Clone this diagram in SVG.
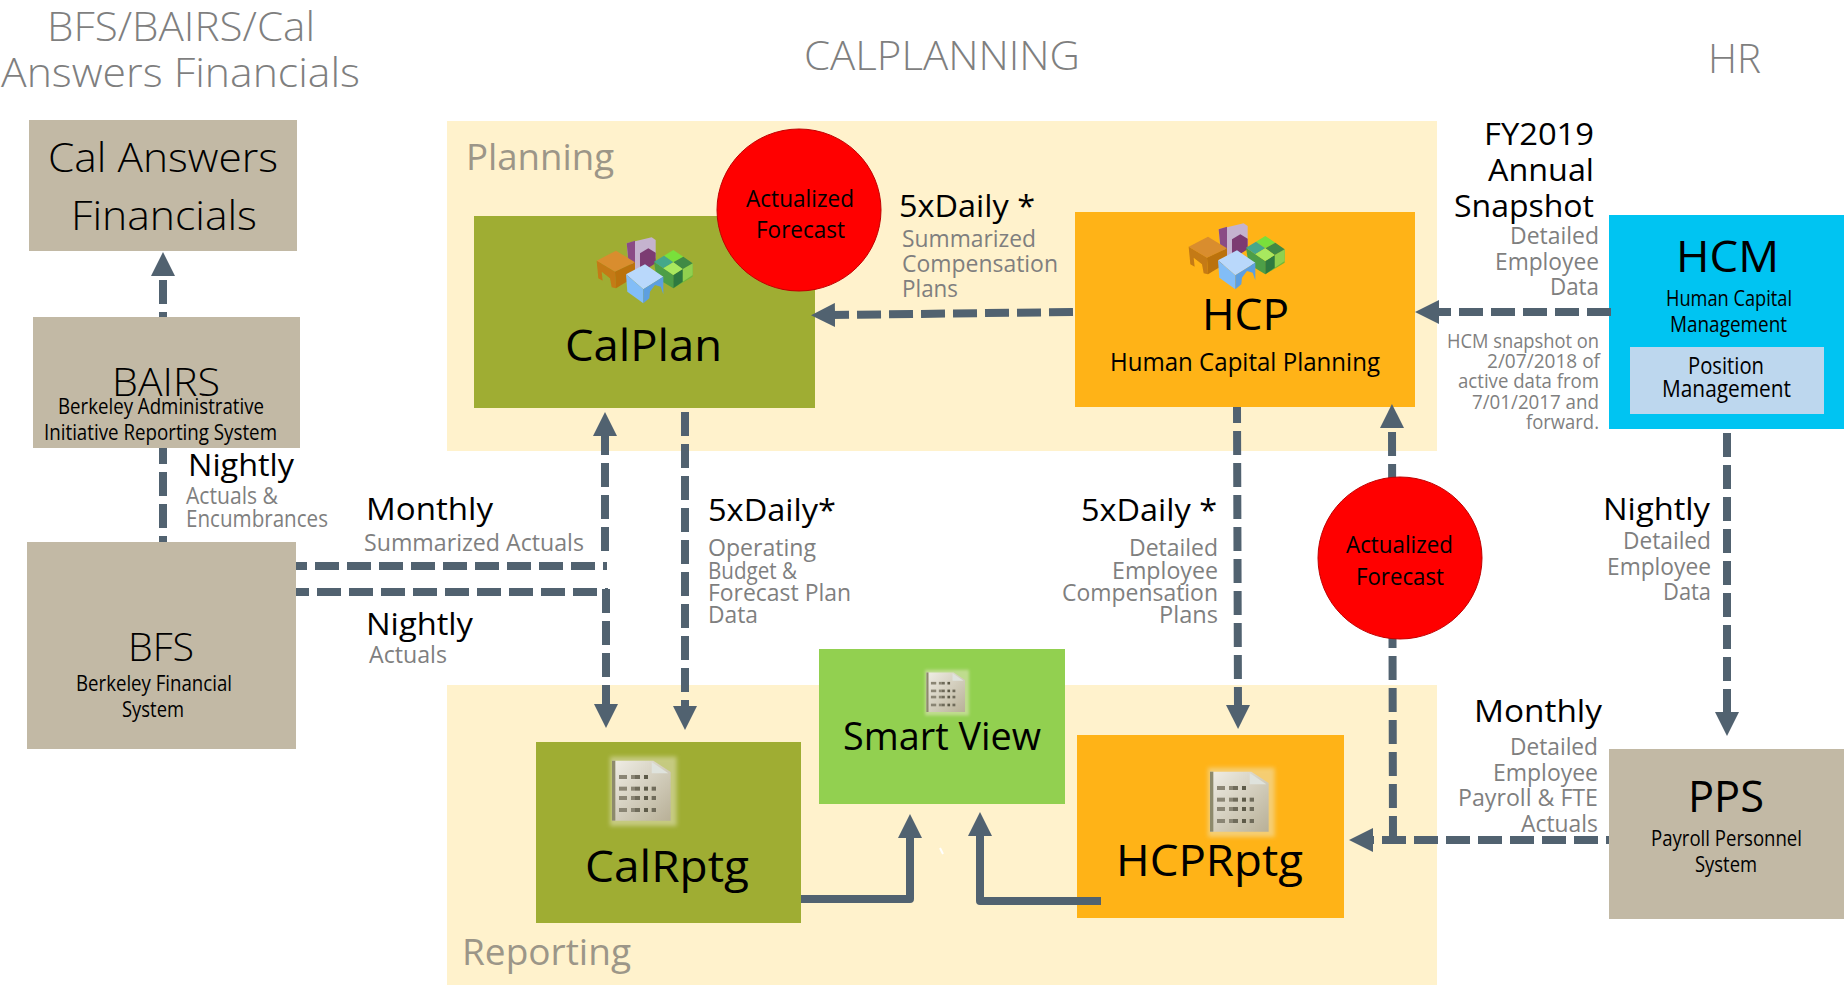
<svg xmlns="http://www.w3.org/2000/svg" width="1848" height="985" viewBox="0 0 1848 985">
<style>
text{font-family:"Open Sans","Noto Sans","Liberation Sans",sans-serif;fill:#000}
.t{fill:#7f7f7f;font-size:40px;font-weight:300}
.g{fill:#7f7f7f;font-size:23px}
.s{fill:#7f7f7f;font-size:20px}
.b{font-size:31px}
.n{font-size:44px}
.l{font-size:40px;font-weight:300}
.m{font-size:21px}
.h{font-size:24px}
.r{fill:#9c9688;font-size:36px}
.tan{fill:#c2b9a5}.olive{fill:#9fad33}.amber{fill:#ffb317}
.c{fill:none;stroke:#516270;stroke-width:8}
.d{stroke-dasharray:24 8}
.red{fill:#f00;stroke:#c00000;stroke-width:1}
</style>
<defs>
<marker id="ah" viewBox="0 0 24 24" refX="4" refY="12" markerWidth="24" markerHeight="24" markerUnits="userSpaceOnUse" orient="auto"><path d="M0 0L24 12L0 24Z" fill="#516270"/></marker>
<linearGradient id="sh" x1="0" y1="0" x2="1" y2="1"><stop offset="0" stop-color="#f0eee6"/><stop offset="1" stop-color="#b8b097"/></linearGradient>
<filter id="bl" x="-10%" y="-10%" width="120%" height="120%"><feGaussianBlur stdDeviation="2"/></filter>
<filter id="bw" x="-20%" y="-20%" width="140%" height="140%"><feGaussianBlur stdDeviation="7"/></filter>
<g id="cube" transform="translate(-7 -7) scale(.3333)" filter="url(#bl)">
<path d="M110 40L185 22L197 30V85L133 125L115 90Z" fill="#c5b3cf"/><path d="M110 40L135 32V100L115 90Z" fill="#8a4c85"/><path d="M150 70L175 55L197 68V100L165 120L150 110Z" fill="#7b3b72"/>
<path d="M20 92L78 62L135 97L75 125Z" fill="#d98d2e"/><path d="M20 92L75 125L78 175L65 172L60 145L35 125L38 152L25 145Z" fill="#c47a14"/><path d="M75 125L135 97V140L78 175Z" fill="#bb7210"/>
<path d="M192 95L250 135V175L200 145Z" fill="#4d9e46"/><path d="M250 135L308 100V140L250 175Z" fill="#6fb83a"/><path d="M278 117L308 100V135L278 155Z" fill="#90d050"/><path d="M250 175L278 155V117L250 135Z" fill="#2f7a40"/>
<path d="M222 77L250 60L280 80L250 97Z" fill="#79e03a"/><path d="M192 95L222 77L250 97L220 115Z" fill="#45a88a"/><path d="M280 80L308 100L278 117L250 97Z" fill="#3f8a45"/><path d="M220 115L250 97L278 117L250 135Z" fill="#a8e85f"/>
<path d="M108 133L165 103L220 140L160 178Z" fill="#b9d8fb"/><path d="M108 133L160 178V220L112 185Z" fill="#82bdf7"/><path d="M160 178L220 140V193L212 170L195 165L180 185L178 205L160 220Z" fill="#5d9fe0"/>
</g>
<g id="sheet" transform="translate(-10 -7) scale(.3333)">
<rect x="30" y="20" width="200" height="208" fill="#ece8cc" opacity=".5" filter="url(#bw)"/>
<g filter="url(#bl)">
<path d="M36 32H160L212 66V212H36Z" fill="url(#sh)"/>
<path d="M36 32H46V212H36Z" fill="#8d8a6c"/>
<path d="M155 36L205 70H155Z" fill="#dfe3dd"/>
</g>
<g fill="#8a8574"><rect x="57" y="75" width="24" height="12"/><rect x="93" y="75" width="12" height="12"/><rect x="105" y="75" width="15" height="12" fill="#6f6b5a"/><rect x="132" y="75" width="12" height="12" fill="#5d5a48"/>
<rect x="57" y="110" width="24" height="12"/><rect x="93" y="110" width="12" height="12"/><rect x="105" y="110" width="15" height="12" fill="#6f6b5a"/><rect x="132" y="110" width="12" height="12" fill="#5d5a48"/><rect x="155" y="110" width="13" height="12" fill="#6f6b5a"/>
<rect x="57" y="138" width="24" height="12"/><rect x="93" y="138" width="12" height="12"/><rect x="105" y="138" width="15" height="12" fill="#6f6b5a"/><rect x="132" y="138" width="12" height="12" fill="#5d5a48"/><rect x="155" y="138" width="13" height="12" fill="#6f6b5a"/>
<rect x="57" y="174" width="24" height="12"/><rect x="93" y="174" width="12" height="12"/><rect x="105" y="174" width="15" height="12" fill="#6f6b5a"/><rect x="132" y="174" width="12" height="12" fill="#5d5a48"/><rect x="155" y="174" width="13" height="12" fill="#6f6b5a"/></g>
</g>
</defs>
<rect width="1848" height="985" fill="#fff"/>
<g id="titles">
<text class="t" x="47" y="41" textLength="268" lengthAdjust="spacingAndGlyphs">BFS/BAIRS/Cal</text>
<text class="t" x="1" y="87" textLength="359" lengthAdjust="spacingAndGlyphs">Answers Financials</text>
<text class="t" x="804" y="70" textLength="276" lengthAdjust="spacingAndGlyphs">CALPLANNING</text>
<text class="t" x="1708" y="73" textLength="53" lengthAdjust="spacingAndGlyphs">HR</text>
</g>
<g id="planning"><rect x="447" y="121" width="990" height="330" fill="#fff2cc"/><text class="r" x="466" y="170" textLength="148" lengthAdjust="spacingAndGlyphs">Planning</text></g>
<g id="reporting"><rect x="447" y="685" width="990" height="300" fill="#fff2cc"/><text class="r" x="462" y="965" textLength="169" lengthAdjust="spacingAndGlyphs">Reporting</text></g>

<g id="calanswers"><rect class="tan" x="29" y="120" width="268" height="131"/><text class="l" x="48" y="172" textLength="230" lengthAdjust="spacingAndGlyphs">Cal Answers</text><text class="l" x="71" y="230" textLength="186" lengthAdjust="spacingAndGlyphs">Financials</text></g>
<g id="bairs"><rect class="tan" x="33" y="317" width="267" height="131"/><text class="l" style="font-size:39px" x="112" y="396" textLength="108" lengthAdjust="spacingAndGlyphs">BAIRS</text><text class="m" x="58" y="414" textLength="206" lengthAdjust="spacingAndGlyphs">Berkeley Administrative</text><text class="m" x="44" y="440" textLength="233" lengthAdjust="spacingAndGlyphs">Initiative Reporting System</text></g>
<g id="bfs"><rect class="tan" x="27" y="542" width="269" height="207"/><text class="l" style="font-size:39px" x="128" y="661" textLength="66" lengthAdjust="spacingAndGlyphs">BFS</text><text class="m" x="76" y="691" textLength="156" lengthAdjust="spacingAndGlyphs">Berkeley Financial</text><text class="m" x="122" y="717" textLength="62" lengthAdjust="spacingAndGlyphs">System</text></g>
<g id="calplan"><rect class="olive" x="474" y="216" width="341" height="192"/><use href="#cube" x="597" y="237"/><text class="n" x="565" y="361" textLength="157" lengthAdjust="spacingAndGlyphs">CalPlan</text></g>
<g id="hcp"><rect class="amber" x="1075" y="212" width="340" height="195"/><use href="#cube" x="1189" y="223"/><text class="n" x="1202" y="330" textLength="87" lengthAdjust="spacingAndGlyphs">HCP</text><text x="1110" y="371" textLength="270" lengthAdjust="spacingAndGlyphs" style="font-size:25px">Human Capital Planning</text></g>
<g id="hcm"><rect x="1609" y="215" width="235" height="214" fill="#00c4f2"/><text class="n" x="1676" y="272" textLength="103" lengthAdjust="spacingAndGlyphs">HCM</text><text class="m" x="1666" y="306" textLength="126" lengthAdjust="spacingAndGlyphs">Human Capital</text><text class="m" x="1670" y="332" textLength="117" lengthAdjust="spacingAndGlyphs">Management</text>
<rect x="1630" y="347" width="194" height="67" fill="#bdd7ee"/><text style="font-size:23px" x="1688" y="374" textLength="76" lengthAdjust="spacingAndGlyphs">Position</text><text style="font-size:23px" x="1662" y="397" textLength="129" lengthAdjust="spacingAndGlyphs">Management</text></g>
<g id="pps"><rect class="tan" x="1609" y="749" width="235" height="170"/><text class="n" x="1688" y="812" textLength="76" lengthAdjust="spacingAndGlyphs">PPS</text><text class="m" x="1651" y="846" textLength="151" lengthAdjust="spacingAndGlyphs">Payroll Personnel</text><text class="m" x="1695" y="872" textLength="62" lengthAdjust="spacingAndGlyphs">System</text></g>
<g id="calrptg"><rect class="olive" x="536" y="742" width="265" height="181"/><use href="#sheet" x="610" y="757"/><text class="n" x="585" y="882" textLength="164" lengthAdjust="spacingAndGlyphs">CalRptg</text></g>
<g id="smartview"><rect x="819" y="649" width="246" height="155" fill="#92d050"/><g transform="translate(925 670) scale(.66)"><use href="#sheet"/></g><text style="font-size:38px" x="843" y="750" textLength="198" lengthAdjust="spacingAndGlyphs">Smart View</text></g>
<g id="hcprptg"><rect class="amber" x="1077" y="735" width="267" height="183"/><use href="#sheet" x="1208" y="768"/><text class="n" x="1116" y="876" textLength="187" lengthAdjust="spacingAndGlyphs">HCPRptg</text></g>

<g id="connectors">
<path class="c d" style="stroke-dashoffset:18" d="M163 542V448"/>
<path class="c d" style="stroke-dashoffset:19" d="M163 317V272" marker-end="url(#ah)"/>
<path class="c d" style="stroke-dashoffset:13" d="M296 566H607"/>
<path class="c d" d="M605 551V432" marker-end="url(#ah)"/>
<path class="c d" style="stroke-dashoffset:11" d="M296 592H608"/>
<path class="c d" d="M606 589V708" marker-end="url(#ah)"/>
<path class="c d" d="M685 412V710" marker-end="url(#ah)"/>
<path class="c d" d="M1073 312L831 315" marker-end="url(#ah)"/>
<path class="c d" style="stroke-dashoffset:8" d="M1237 407L1238 709" marker-end="url(#ah)"/>
<path class="c d" d="M1611 312H1435" marker-end="url(#ah)"/>
<path class="c d" d="M1727 433V716" marker-end="url(#ah)"/>
<path class="c d" style="stroke-dashoffset:21" d="M1609 840H1369" marker-end="url(#ah)"/>
<path class="c d" d="M1393 840L1392 424" marker-end="url(#ah)"/>
<path class="c" stroke-linejoin="round" d="M801 899H910V834" marker-end="url(#ah)"/>
<path class="c" stroke-linejoin="round" d="M1101 901H980V832" marker-end="url(#ah)"/>
</g>
<path d="M940 848L943 854" stroke="#fff" stroke-width="2" fill="none"/>

<g id="forecast1"><ellipse class="red" cx="799" cy="210" rx="82" ry="81"/><text class="h" x="746" y="207" textLength="108" lengthAdjust="spacingAndGlyphs">Actualized</text><text class="h" x="756" y="238" textLength="89" lengthAdjust="spacingAndGlyphs">Forecast</text></g>
<g id="forecast2"><ellipse class="red" cx="1400" cy="558" rx="82" ry="81"/><text class="h" x="1346" y="553" textLength="107" lengthAdjust="spacingAndGlyphs">Actualized</text><text class="h" x="1356" y="585" textLength="88" lengthAdjust="spacingAndGlyphs">Forecast</text></g>

<g id="labels">
<text class="b" x="188" y="476" textLength="106" lengthAdjust="spacingAndGlyphs">Nightly</text>
<text class="g" x="186" y="504" textLength="92" lengthAdjust="spacingAndGlyphs">Actuals &amp;</text>
<text class="g" x="186" y="527" textLength="142" lengthAdjust="spacingAndGlyphs">Encumbrances</text>
<text class="b" x="366" y="520" textLength="127" lengthAdjust="spacingAndGlyphs">Monthly</text>
<text class="g" x="364" y="551" textLength="220" lengthAdjust="spacingAndGlyphs">Summarized Actuals</text>
<text class="b" x="366" y="635" textLength="107" lengthAdjust="spacingAndGlyphs">Nightly</text>
<text class="g" x="369" y="663" textLength="78" lengthAdjust="spacingAndGlyphs">Actuals</text>
<text class="b" x="899" y="217" textLength="136" lengthAdjust="spacingAndGlyphs">5xDaily *</text>
<text class="g" x="902" y="247" textLength="134" lengthAdjust="spacingAndGlyphs">Summarized</text>
<text class="g" x="902" y="272" textLength="156" lengthAdjust="spacingAndGlyphs">Compensation</text>
<text class="g" x="902" y="297" textLength="56" lengthAdjust="spacingAndGlyphs">Plans</text>
<text class="b" x="1484" y="145" textLength="110" lengthAdjust="spacingAndGlyphs">FY2019</text>
<text class="b" x="1488" y="181" textLength="106" lengthAdjust="spacingAndGlyphs">Annual</text>
<text class="b" x="1454" y="217" textLength="140" lengthAdjust="spacingAndGlyphs">Snapshot</text>
<text class="g" x="1510" y="244" textLength="89" lengthAdjust="spacingAndGlyphs">Detailed</text>
<text class="g" x="1495" y="270" textLength="104" lengthAdjust="spacingAndGlyphs">Employee</text>
<text class="g" x="1550" y="295" textLength="49" lengthAdjust="spacingAndGlyphs">Data</text>
<text class="s" x="1447" y="348" textLength="152" lengthAdjust="spacingAndGlyphs">HCM snapshot on</text>
<text class="s" x="1487" y="368" textLength="113" lengthAdjust="spacingAndGlyphs">2/07/2018 of</text>
<text class="s" x="1458" y="388" textLength="141" lengthAdjust="spacingAndGlyphs">active data from</text>
<text class="s" x="1472" y="409" textLength="127" lengthAdjust="spacingAndGlyphs">7/01/2017 and</text>
<text class="s" x="1526" y="429" textLength="73" lengthAdjust="spacingAndGlyphs">forward.</text>
<text class="b" x="708" y="521" textLength="128" lengthAdjust="spacingAndGlyphs">5xDaily*</text>
<text class="g" x="708" y="556" textLength="108" lengthAdjust="spacingAndGlyphs">Operating</text>
<text class="g" x="708" y="579" textLength="89" lengthAdjust="spacingAndGlyphs">Budget &amp;</text>
<text class="g" x="708" y="601" textLength="143" lengthAdjust="spacingAndGlyphs">Forecast Plan</text>
<text class="g" x="708" y="623" textLength="50" lengthAdjust="spacingAndGlyphs">Data</text>
<text class="b" x="1081" y="521" textLength="136" lengthAdjust="spacingAndGlyphs">5xDaily *</text>
<text class="g" x="1129" y="556" textLength="89" lengthAdjust="spacingAndGlyphs">Detailed</text>
<text class="g" x="1112" y="579" textLength="106" lengthAdjust="spacingAndGlyphs">Employee</text>
<text class="g" x="1062" y="601" textLength="156" lengthAdjust="spacingAndGlyphs">Compensation</text>
<text class="g" x="1159" y="623" textLength="59" lengthAdjust="spacingAndGlyphs">Plans</text>
<text class="b" x="1603" y="520" textLength="107" lengthAdjust="spacingAndGlyphs">Nightly</text>
<text class="g" x="1623" y="549" textLength="88" lengthAdjust="spacingAndGlyphs">Detailed</text>
<text class="g" x="1607" y="575" textLength="104" lengthAdjust="spacingAndGlyphs">Employee</text>
<text class="g" x="1663" y="600" textLength="48" lengthAdjust="spacingAndGlyphs">Data</text>
<text class="b" x="1474" y="722" textLength="128" lengthAdjust="spacingAndGlyphs">Monthly</text>
<text class="g" x="1510" y="755" textLength="88" lengthAdjust="spacingAndGlyphs">Detailed</text>
<text class="g" x="1493" y="781" textLength="105" lengthAdjust="spacingAndGlyphs">Employee</text>
<text class="g" x="1458" y="806" textLength="140" lengthAdjust="spacingAndGlyphs">Payroll &amp; FTE</text>
<text class="g" x="1521" y="832" textLength="77" lengthAdjust="spacingAndGlyphs">Actuals</text>
</g>
</svg>
